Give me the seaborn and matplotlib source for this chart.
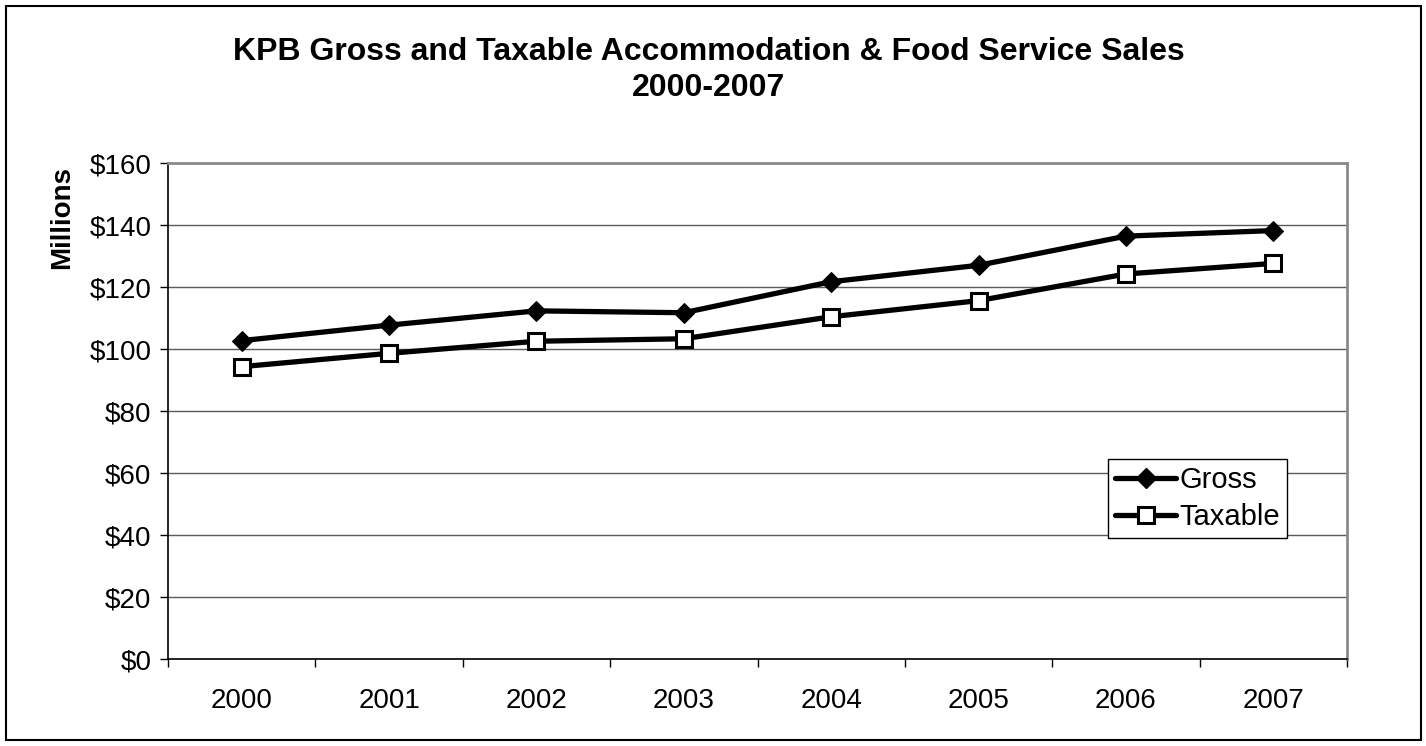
import matplotlib
matplotlib.use("Agg")
import matplotlib.pyplot as plt
import matplotlib.patches as mpatches
from matplotlib.ticker import FixedLocator, FuncFormatter
from matplotlib.lines import Line2D
import seaborn as sns
import pandas as pd

years = ["2000", "2001", "2002", "2003", "2004", "2005", "2006", "2007"]
gross = [102.8, 107.8, 112.4, 111.8, 121.8, 127.1, 136.5, 138.3]
taxable = [94.4, 98.7, 102.6, 103.4, 110.5, 115.7, 124.3, 127.7]
series_names = ["Gross", "Taxable"]
y_ticks = [0, 20, 40, 60, 80, 100, 120, 140, 160]

sns.set_theme(style="white")
plt.rcParams['font.family'] = ['Liberation Sans', 'DejaVu Sans']
plt.rcParams['text.color'] = 'black'
plt.rcParams['axes.labelcolor'] = 'black'
plt.rcParams['xtick.color'] = 'black'
plt.rcParams['ytick.color'] = 'black'

df = pd.DataFrame({
    "pos": list(range(len(years))) * 2,
    "value": gross + taxable,
    "series": [series_names[0]] * len(years) + [series_names[1]] * len(years),
})

fig = plt.figure(figsize=(14.26, 7.46), dpi=100)
ax = fig.add_axes([168/1426, 1-659.3/746, (1347-168)/1426, (659.3-163.3)/746])

sns.lineplot(data=df, x="pos", y="value", hue="series", style="series",
             markers={"Gross": "D", "Taxable": "s"}, dashes=False,
             palette={"Gross": "black", "Taxable": "black"},
             linewidth=3.8, markersize=11, ax=ax, legend=False)
lines = ax.get_lines()
lines[0].set_markerfacecolor("black"); lines[0].set_markeredgecolor("black"); lines[0].set_markersize(10)
lines[1].set_markerfacecolor("white"); lines[1].set_markeredgecolor("black"); lines[1].set_markeredgewidth(2.2)

ax.set_xlim(-0.5, len(years) - 0.5)
ax.set_ylim(0, 160)
ax.set_xlabel("")
ax.set_ylabel("")

ax.xaxis.set_major_locator(FixedLocator(range(len(years))))
ax.set_xticklabels(years)
ax.xaxis.set_minor_locator(FixedLocator([i - 0.5 for i in range(len(years) + 1)]))
ax.tick_params(axis="x", which="major", length=0, pad=21, labelsize=20, labelcolor="black")
ax.tick_params(axis="x", which="minor", length=6, width=1, color="black", direction="out", bottom=True)
ax.set_yticks(y_ticks)
ax.yaxis.set_major_formatter(FuncFormatter(lambda v, p: f"${int(v)}"))
ax.tick_params(axis="y", which="major", length=6, width=1, color="black", direction="out", left=True,
               pad=6, labelsize=20, labelcolor="black")

ax.grid(axis="y", color="#5a5a5a", linewidth=1.0)
ax.set_axisbelow(True)
for s in ["left", "bottom"]:
    ax.spines[s].set_color("black"); ax.spines[s].set_linewidth(1.2)
for s in ["top", "right"]:
    ax.spines[s].set_color("#8a8a8a"); ax.spines[s].set_linewidth(2)

handles = [Line2D([], [], color="black", lw=3.8, marker="D", markersize=10, markerfacecolor="black"),
           Line2D([], [], color="black", lw=3.8, marker="s", markersize=11, markerfacecolor="white", markeredgewidth=2.2)]
leg = ax.legend(handles, series_names, loc="lower left", bbox_to_anchor=(0.797, 0.244),
                fontsize=21, frameon=True, fancybox=False, edgecolor="black", framealpha=1,
                handlelength=2.1, handletextpad=0.1, borderpad=0.25, labelspacing=0.3, borderaxespad=0)
leg.get_frame().set_linewidth(1.0)

fig.text(0.497, 1-52/746, "KPB Gross and Taxable Accommodation & Food Service Sales",
         ha="center", va="center", fontsize=23, fontweight="bold")
fig.text(0.497, 1-88/746, "2000-2007", ha="center", va="center", fontsize=23, fontweight="bold")
fig.text(62/1426, 1-217/746, "Millions", rotation=90, ha="center", va="center",
         fontsize=20, fontweight="bold")

fig.patches.append(mpatches.Rectangle((6/1426, 6/746), 1415/1426, 734/746, transform=fig.transFigure,
                                      fill=False, edgecolor="black", linewidth=1.5))

fig.savefig("out.png", dpi=100)
